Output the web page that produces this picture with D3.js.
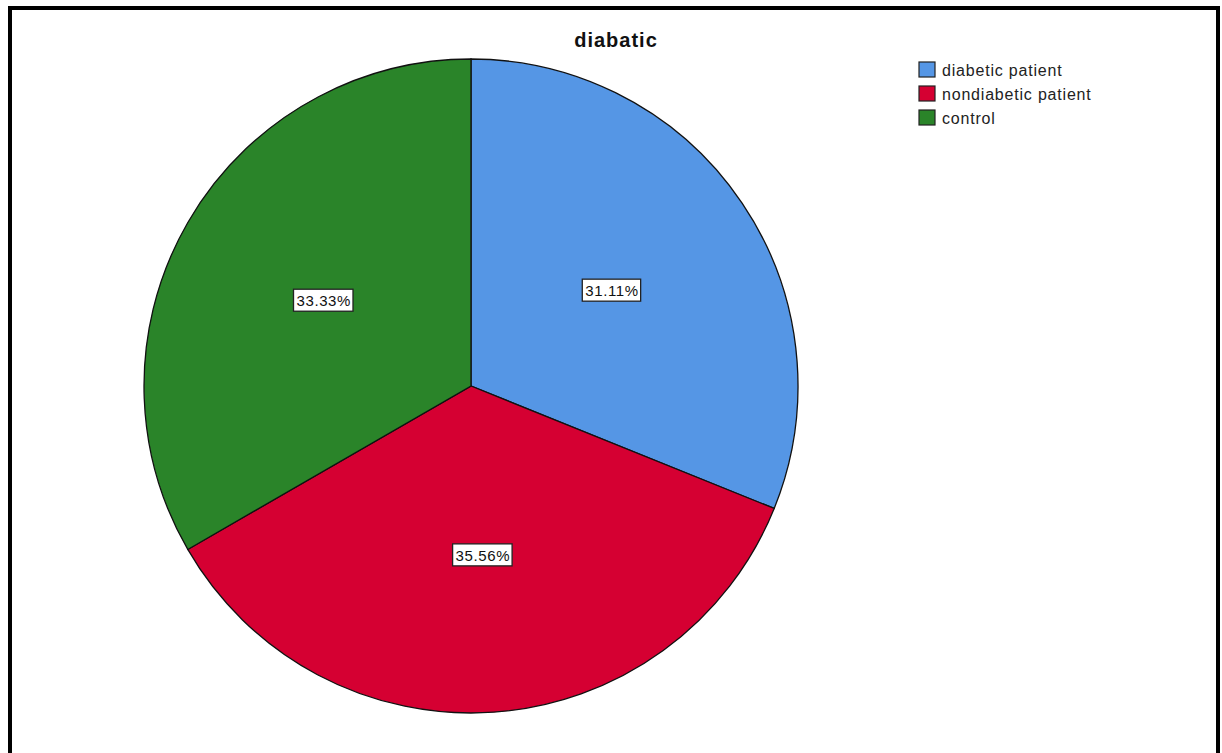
<!DOCTYPE html>
<html>
<head>
<meta charset="utf-8">
<script src="https://cdn.jsdelivr.net/npm/d3@7"></script>
<style>
  body { margin: 0; background: #fff; }
  svg { display: block; }
</style>
</head>
<body>
<div id="chart"></div>
<script>
// data
var categories = ['diabetic patient', 'nondiabetic patient', 'control'];
var values = [31.11, 35.56, 33.33];
var colors = ['#5596e5', '#d50032', '#2a8429'];
var chartTitle = 'diabatic';

var width = 1222, height = 753;
var cx = 471, cy = 386, radius = 327;
var font = 'Arial, Liberation Sans, sans-serif';

var svg = d3.select('#chart').append('svg')
  .attr('width', width)
  .attr('height', height);

// frame (bottom edge runs off the picture)
svg.append('rect')
  .attr('x', 10).attr('y', 8)
  .attr('width', 1208).attr('height', 800)
  .attr('fill', 'none')
  .attr('stroke', '#000')
  .attr('stroke-width', 4);

svg.append('text')
  .attr('x', 616).attr('y', 47)
  .attr('text-anchor', 'middle')
  .attr('font-family', font)
  .attr('font-weight', 'bold')
  .attr('font-size', 20)
  .attr('letter-spacing', 1)
  .attr('fill', '#111')
  .text(chartTitle);

var pie = d3.pie().sort(null).value(function (d) { return d; });
var arcs = pie(values);
var arc = d3.arc().innerRadius(0).outerRadius(radius);
var labelArc = d3.arc().innerRadius(radius * 0.52).outerRadius(radius * 0.52);

var g = svg.append('g').attr('transform', 'translate(' + cx + ',' + cy + ')');

g.selectAll('path.slice')
  .data(arcs)
  .enter().append('path')
  .attr('class', 'slice')
  .attr('d', arc)
  .attr('fill', function (d, i) { return colors[i]; })
  .attr('stroke', '#111')
  .attr('stroke-width', 1.3);

var labels = g.selectAll('g.lbl')
  .data(arcs)
  .enter().append('g')
  .attr('class', 'lbl')
  .attr('transform', function (d) {
    var c = labelArc.centroid(d);
    return 'translate(' + c[0] + ',' + c[1] + ')';
  });

labels.append('text')
  .attr('text-anchor', 'middle')
  .attr('dy', '0.35em')
  .attr('font-family', font)
  .attr('font-size', 15)
  .attr('letter-spacing', 0.6)
  .attr('fill', '#111')
  .text(function (d) { return d.data.toFixed(2) + '%'; });

labels.each(function () {
  var grp = d3.select(this);
  var bb = grp.select('text').node().getBBox();
  grp.insert('rect', 'text')
    .attr('x', bb.x - 3).attr('y', bb.y - 3)
    .attr('width', bb.width + 5).attr('height', bb.height + 5)
    .attr('fill', '#fff')
    .attr('stroke', '#222')
    .attr('stroke-width', 1.3);
});

// legend
var legend = svg.append('g').attr('transform', 'translate(919,62)');
var rows = legend.selectAll('g')
  .data(categories)
  .enter().append('g')
  .attr('transform', function (d, i) { return 'translate(0,' + i * 24 + ')'; });

rows.append('rect')
  .attr('width', 16).attr('height', 15)
  .attr('fill', function (d, i) { return colors[i]; })
  .attr('stroke', '#222')
  .attr('stroke-width', 1.2);

rows.append('text')
  .attr('x', 23).attr('y', 14)
  .attr('font-family', font)
  .attr('font-size', 16)
  .attr('letter-spacing', 0.8)
  .attr('fill', '#222')
  .text(function (d) { return d; });
</script>
</body>
</html>
